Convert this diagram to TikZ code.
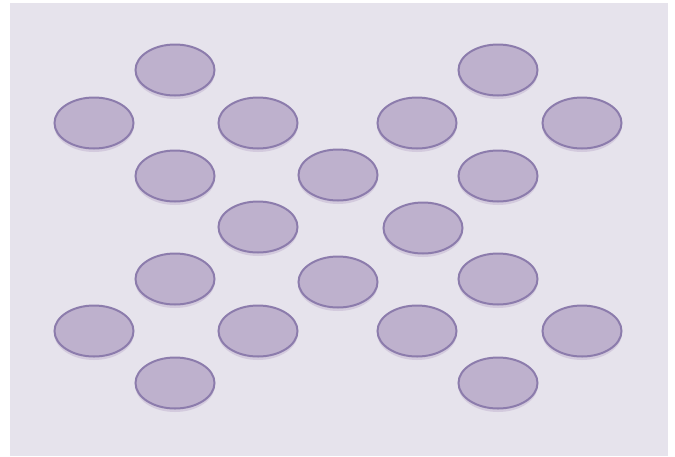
\documentclass[tikz,border=0pt]{standalone}
\usetikzlibrary{shapes.geometric}
\definecolor{bgc}{HTML}{E6E3EC}
\definecolor{cellfill}{HTML}{BEB1CD}
\definecolor{celledge}{HTML}{8C7CAC}
\definecolor{cellshade}{HTML}{D3CADD}
\tikzset{
  cell/.style={ellipse, minimum width=79pt, minimum height=51pt, inner sep=0pt,
    fill=cellfill, draw=celledge, line width=2pt},
  shade/.style={ellipse, minimum width=80pt, minimum height=54pt, inner sep=0pt,
    fill=cellshade, draw=none}
}
\begin{document}
\begin{tikzpicture}[x=1pt,y=-1pt]
\useasboundingbox (0,0) rectangle (675,456);
\fill[white] (0,0) rectangle (675,456);
\fill[bgc] (10,3) rectangle (668,456);
\foreach \n/\x/\y in {
  a/175/70, b/498/70,
  c/94/123, d/258/123, e/417/123, f/582/123,
  g/175/176, h/338/175, i/498/176,
  j/258/227, k/423/228,
  l/175/279, m/338/282, n/498/279,
  o/94/331, p/258/331, q/417/331, r/582/331,
  s/175/383, t/498/383} {
  \node[shade] (sh\n) at (\x,\y+2) {};
  \node[cell] (\n) at (\x,\y) {};
}
\end{tikzpicture}
\end{document}
